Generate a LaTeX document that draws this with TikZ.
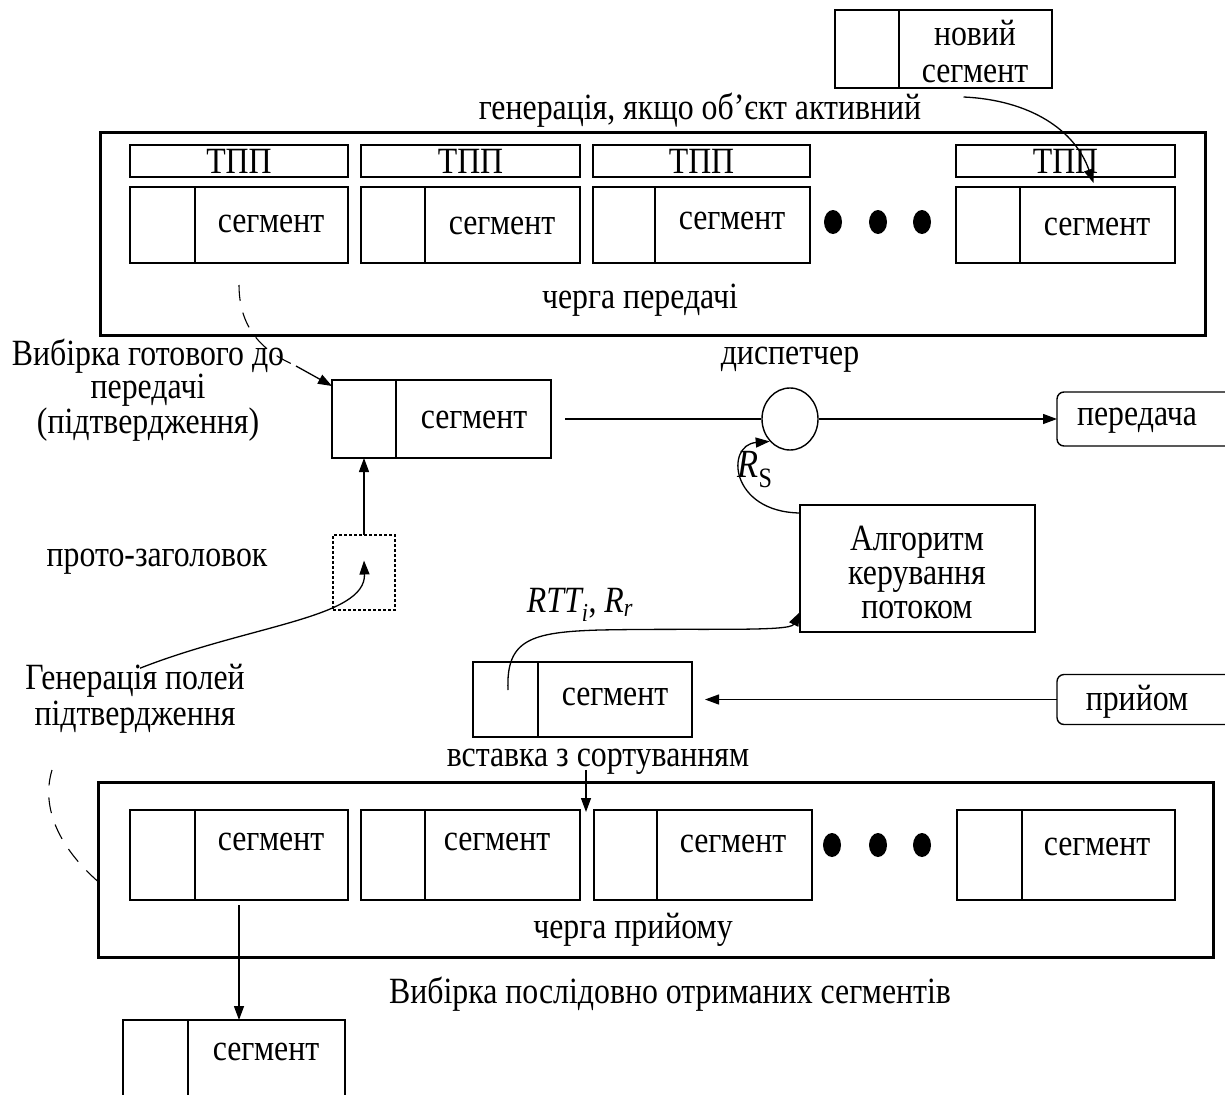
\documentclass[tikz,border=0pt]{standalone}
\usepackage{fontspec}
\setmainfont{Liberation Serif}[FakeStretch=0.86]
\usetikzlibrary{arrows.meta,shapes.geometric}
\newcommand\segbox[6]{%
  \node[thinbox, minimum width={#4-#2}, minimum height={#5-#3}] (#1) at (#2,#3) {};
  \draw[boxline] (#6,#3) -- (#6,#5);
}
\begin{document}
\begin{tikzpicture}[x=1pt,y=-1pt,
  txt/.style={font=\fontsize{37}{31}\selectfont, inner sep=0pt, align=center},
  boxline/.style={line width=1.4pt},
  thinbox/.style={draw, line width=1.4pt, inner sep=0pt, outer sep=0pt, anchor=north west},
  bigbox/.style={draw, line width=3pt, inner sep=0pt, outer sep=0pt, anchor=north west},
  roundbox/.style={draw, line width=1.4pt, rounded corners=7pt, inner sep=0pt, outer sep=0pt, anchor=west},
  dotst/.style={ellipse, fill=black, minimum width=18pt, minimum height=24pt, inner sep=0pt},
  arr/.style={-{Triangle[length=14pt,width=10pt]}, line width=1.3pt},
  brk/.style={line width=1.1pt, dash pattern=on 16pt off 12pt},
]
\useasboundingbox (0,0) rectangle (1225,1094);
\fill[white] (0,0) rectangle (1225,1094);

% ---------- new segment ----------
\segbox{newseg}{835}{10}{1052}{88}{899}
\node[txt, font=\fontsize{37}{37}\selectfont] (newsegt) at (975,52) {новий\\сегмент};
\node[txt] (gen) at (700,110) {генерація, якщо об’єкт активний};

% ---------- transmit queue ----------
\node[bigbox, minimum width=1105pt, minimum height=202pt] (txq) at (100,133) {};
\node[thinbox, minimum width=218pt, minimum height=32pt, font=\fontsize{37}{31}\selectfont] (tpp1) at (130,145) {ТПП};
\node[thinbox, minimum width=219pt, minimum height=32pt, font=\fontsize{37}{31}\selectfont] (tpp2) at (361,145) {ТПП};
\node[thinbox, minimum width=217pt, minimum height=32pt, font=\fontsize{37}{31}\selectfont] (tpp3) at (593,145) {ТПП};
\node[thinbox, minimum width=219pt, minimum height=32pt, font=\fontsize{37}{31}\selectfont] (tpp4) at (956,145) {ТПП};
\segbox{s1}{130}{187}{348}{263}{195}
\segbox{s2}{361}{187}{580}{263}{425}
\segbox{s3}{593}{187}{810}{263}{655}
\segbox{s4}{956}{187}{1175}{263}{1020}
\node[txt] (s1t) at (271,224) {сегмент};
\node[txt] (s2t) at (502,226) {сегмент};
\node[txt] (s3t) at (732,221) {сегмент};
\node[txt] (s4t) at (1097,227) {сегмент};
\node[dotst] (td1) at (833,222) {};
\node[dotst] (td2) at (878,222) {};
\node[dotst] (td3) at (922,222) {};
\node[txt] (txql) at (640,300) {черга передачі};

\draw[arr] ([xshift=20pt,yshift=-9pt]newseg.south) .. controls (1030,100) and (1075,130) .. ([xshift=28pt,yshift=-6pt]tpp4.south);

% ---------- selection / dispatcher ----------
\node[txt, font=\fontsize{37}{31}\selectfont] (selL) at (148,390) {Вибірка готового до\\передачі\\(підтвердження)};
\segbox{sel}{332}{380}{551}{458}{396}
\node[txt] (selt) at (474,420) {сегмент};
\draw[brk] ([yshift=-22pt]s1.south) .. controls (239,345) and (285,360) .. (300,368);
\draw[arr] (296,366) -- ([yshift=-6pt]sel.north west);

\node[draw, ellipse, line width=1.4pt, minimum width=56pt, minimum height=62pt, inner sep=0pt] (disp) at (790,419) {};
\node[txt] (dispt) at (790,360) {диспетчер};
\node[roundbox, minimum width=190pt, minimum height=54pt] (tr) at (1057,419) {};
\node[txt] (trt) at (1137,421) {передача};
\draw[boxline, shorten <=14pt] (sel.east) -- (disp.west);
\draw[arr] (disp.east) -- (tr.west);

% ---------- flow control algorithm ----------
\node[draw, line width=2.5pt, minimum width=235pt, minimum height=127pt, inner sep=0pt, outer sep=0pt, anchor=north west] (alg) at (800,505) {};
\node[txt, font=\fontsize{37}{34}\selectfont] (algt) at (917,572) {Алгоритм\\керування\\потоком};
\node[txt, font=\fontsize{40}{36}\selectfont] (rs) at (755,470) {\textit{R}\textsubscript{S}};
\draw[arr] ([yshift=-8pt]alg.north west) .. controls (730,512) and (725,445) .. (disp.south west);

% ---------- proto header ----------
\node[txt] (proto) at (157,562) {прото-заголовок};
\node[draw, line width=1.2pt, dash pattern=on 3pt off 2pt, minimum width=62pt, minimum height=75pt, inner sep=0pt, outer sep=0pt, anchor=north west] (ph) at (333,535) {};
\draw[arr] (ph.north) -- (ph.north |- sel.south);
\node[txt, font=\fontsize{37}{36}\selectfont] (genf) at (135,699) {Генерація полей\\підтвердження};
\draw[arr] ([xshift=5pt,yshift=-4pt]genf.north) .. controls (250,625) and (366,618) .. ([yshift=12pt]ph.center);

% ---------- receive ----------
\segbox{rx}{473}{662}{692}{737}{538}
\node[txt] (rxt) at (615,697) {сегмент};
\node[roundbox, minimum width=190pt, minimum height=50pt] (rcv) at (1057,699.5) {};
\node[txt] (rcvt) at (1137,702) {прийом};
\draw[arr] (rcv.west) -- ([xshift=13pt]rx.east);
\coordinate (rxin) at (508,690);
\draw[arr] (rxin) .. controls (506,640) and (530,632) .. (600,630) .. controls (700,628) and (790,632) .. ([yshift=20pt]alg.south west);
\node[txt] (rtt) at (580,605) {\textit{RTT\textsubscript{i}}, \textit{R\textsubscript{r}}};

\node[txt] (ins) at (598,762) {вставка з сортуванням};
\coordinate (insTop) at (586,770);
\coordinate (insBot) at (586,812);
\draw[arr] (insTop) -- (insBot);

% ---------- receive queue ----------
\node[bigbox, minimum width=1115pt, minimum height=175pt] (rxq) at (98,782) {};
\segbox{b1}{130}{810}{348}{900}{195}
\segbox{b2}{361}{810}{580}{900}{425}
\segbox{b3}{594}{810}{812}{900}{657}
\segbox{b4}{957}{810}{1175}{900}{1022}
\node[txt] (b1t) at (271,842) {сегмент};
\node[txt] (b2t) at (497,842) {сегмент};
\node[txt] (b3t) at (733,844) {сегмент};
\node[txt] (b4t) at (1097,847) {сегмент};
\node[dotst] (bd1) at (832,845) {};
\node[dotst] (bd2) at (878,845) {};
\node[dotst] (bd3) at (922,845) {};
\node[txt] (rxql) at (633,930) {черга прийому};
\coordinate (genEnd) at (52,770);
\draw[brk] ([yshift=-12pt]rxq.west) .. controls (62,850) and (40,810) .. (genEnd);

\node[txt] (seqt) at (670,994) {Вибірка послідовно отриманих сегментів};
\segbox{out}{123}{1020}{345}{1110}{188}
\node[txt] (outt) at (266,1052) {сегмент};
\draw[arr] ([yshift=-5pt]b1.south) -- (b1.south |- out.north);
\end{tikzpicture}
\end{document}
